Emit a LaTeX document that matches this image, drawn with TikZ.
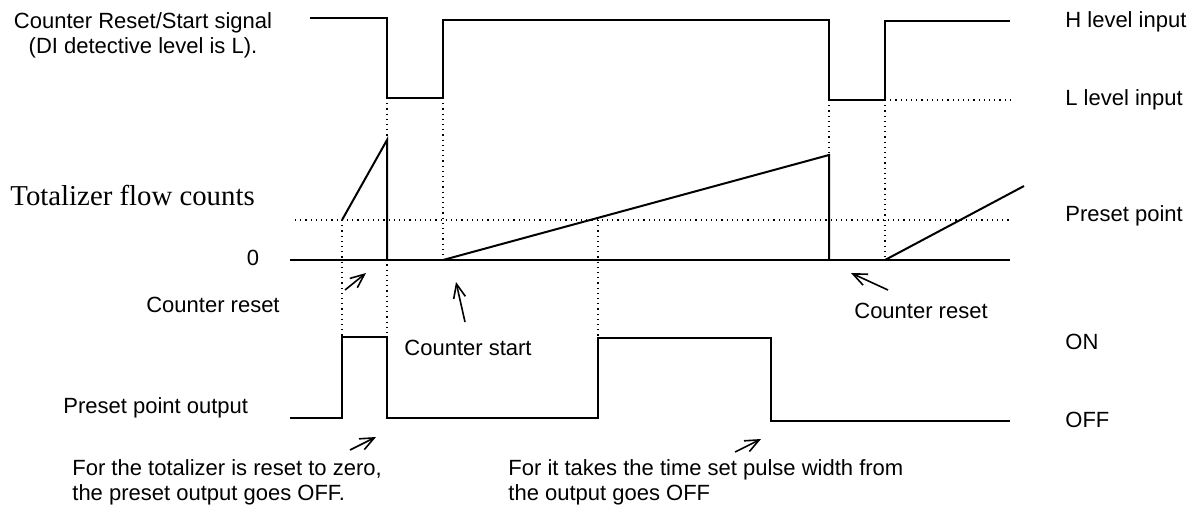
\documentclass[tikz,border=0pt]{standalone}
\usepackage{fontspec}
\setmainfont{Liberation Sans}
\newfontfamily\seriffont{Liberation Serif}
\usetikzlibrary{arrows.meta}

\begin{document}
\begin{tikzpicture}[
    x=0.5pt, y=-0.5pt,
    >={Straight Barb[length=7pt, width=6pt]},
    sigline/.style={line width=1pt, black},
    guideline/.style={line width=0.6pt, black, dotted},
    pointer/.style={->, line width=0.8pt, black},
    lbl/.style={font=\fontsize{11}{12.5}\selectfont, inner sep=0pt, align=left},
    serlbl/.style={font=\seriffont\fontsize{14.4}{16}\selectfont, inner sep=0pt},
]
\useasboundingbox (0,0) rectangle (1197,521);

% === Counter Reset/Start signal ===
\draw[sigline] (310,18) -- (387,18) -- (387,98) -- (443,98) -- (443,20)
    -- (829,20) -- (829,100) -- (885,100) -- (885,21) -- (1010,21);
\draw[guideline] (885,100) -- (1010,100);

% === guide lines ===
\draw[guideline] (387,98) -- (387,337);
\draw[guideline] (443,98) -- (443,260);
\draw[guideline] (829,100) -- (829,155);
\draw[guideline] (885,100) -- (885,260);
\draw[guideline] (342,220) -- (342,337);
\draw[guideline] (598,220) -- (598,337);
\draw[guideline] (295,220) -- (1010,220);

% === Totalizer flow counts ===
\draw[sigline] (290,260) -- (1010,260);
\draw[sigline] (342,220) -- (387,140) -- (387,260);
\draw[sigline] (443,260) -- (829,155) -- (829,260);
\draw[sigline] (885,260) -- (1024,186);

% === Preset point output ===
\draw[sigline] (290,418) -- (342,418) -- (342,337) -- (387,337) -- (387,418)
    -- (598,418) -- (598,338) -- (771,338) -- (771,421) -- (1010,421);

% === Labels ===
\node[lbl, align=center] (sig) at (143,35) {Counter Reset/Start signal\\(DI detective level is L).};
\node[serlbl, anchor=west] (tot) at (10,195) {Totalizer flow counts};
\node[lbl] (zero) at (253,258) {0};
\node[lbl] (rst1) at (213,305) {Counter reset};
\node[lbl] (start) at (468,348) {Counter start};
\node[lbl] (rst2) at (921,311) {Counter reset};
\node[lbl, anchor=west] (out) at (63,408) {Preset point output};
\node[lbl, anchor=west] (hin) at (1065,22) {H level input};
\node[lbl, anchor=west] (lin) at (1065,100) {L level input};
\node[lbl, anchor=west] (pre) at (1065,216) {Preset point};
\node[lbl, anchor=west] (on) at (1065,342) {ON};
\node[lbl, anchor=west] (off) at (1065,420) {OFF};
\node[lbl, anchor=north west] (note1) at (72,459) {For the totalizer is reset to zero,\\the preset output goes OFF.};
\node[lbl, anchor=north west] (note2) at (508,459) {For it takes the time set pulse width from\\the output goes OFF};

% === Pointers ===
\coordinate (p1a) at (345,290); \coordinate (p1b) at (366,273);
\coordinate (p2a) at (465,322); \coordinate (p2b) at (456,282);
\coordinate (p3a) at (888,290); \coordinate (p3b) at (851,273);
\coordinate (p4a) at (350,450); \coordinate (p4b) at (376,437);
\coordinate (p5a) at (735,452); \coordinate (p5b) at (761,439);
\draw[pointer] (p1a) -- (p1b);
\draw[pointer] (p2a) -- (p2b);
\draw[pointer] (p3a) -- (p3b);
\draw[pointer] (p4a) -- (p4b);
\draw[pointer] (p5a) -- (p5b);

\end{tikzpicture}
\end{document}
